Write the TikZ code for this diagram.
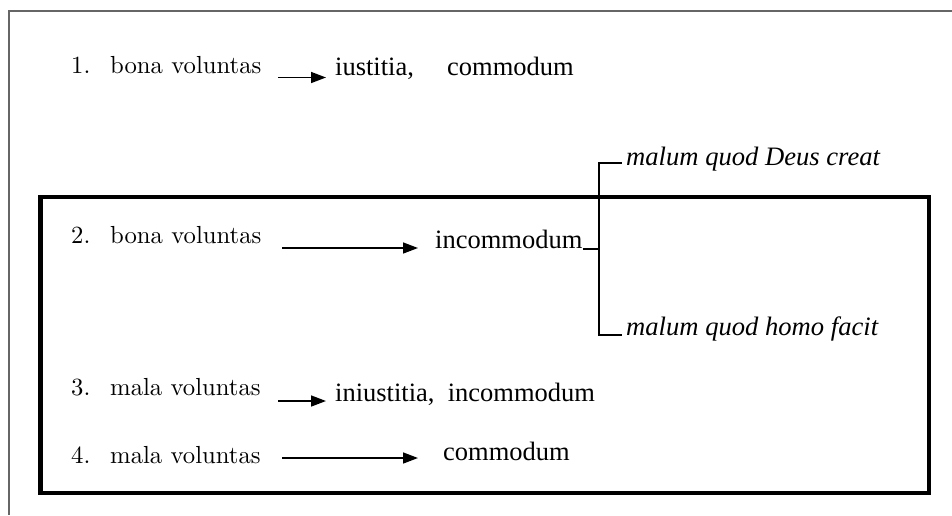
\documentclass[tikz,border=0pt]{standalone}
\usepackage{fontspec}
\newfontfamily\tms{Liberation Serif}
\newfontfamily\lmten{lmroman10-regular}[Extension=.otf]
\usetikzlibrary{arrows.meta}
\begin{document}
\begin{tikzpicture}[x=1pt,y=-1pt,
  lm/.style={anchor=base west,inner sep=0pt,font=\lmten\fontsize{24.7}{30}\selectfont},
  tm/.style={anchor=base west,inner sep=0pt,font=\tms\fontsize{26.5}{32}\selectfont},
  ti/.style={anchor=base west,inner sep=0pt,font=\tms\itshape\fontsize{26.6}{32}\selectfont},
  arr/.style={line width=1.5pt,-{Triangle[length=15pt,width=11pt]}},
  brk/.style={line width=1.2pt}]
\useasboundingbox (0,0) rectangle (952,515);
\fill[white] (0,0) rectangle (952,515);
% outer thin frame (runs off the page right and bottom)
\draw[gray!80!black,line width=1.2pt] (952,11) -- (9,11) -- (9,515);
% thick box
\draw[line width=4.2pt] (40.5,197) rectangle (929,493);
% row 1
\node[lm] (n1) at (71,73.5) {1.};
\node[lm] (l1) at (110,73.5) {bona voluntas};
\coordinate (a1s) at (278,77.5);
\coordinate (a1e) at (326,77.5);
\draw[arr] (a1s) -- (a1e);
\node[tm] (r1a) at (335,75) {iustitia,};
\node[tm] (r1b) at (447,75) {commodum};
% row 2
\node[lm] (n2) at (71,243) {2.};
\node[lm] (l2) at (110,243) {bona voluntas};
\coordinate (a2s) at (282,248);
\coordinate (a2e) at (418,248);
\draw[arr] (a2s) -- (a2e);
\node[tm] (r2) at (435,248) {incommodum};
\node[ti] (d1) at (626,165) {malum quod Deus creat};
\node[ti] (d2) at (626,335) {malum quod homo facit};
\coordinate (bj) at (599,249);
\coordinate (bt) at (599,163);
\coordinate (bb) at (599,335);
\draw[brk] (r2.base east) ++(0,1) -- (bj);
\draw[brk] (d1.base west) ++(-4,-2) -- (bt) -- (bb) -- ([xshift=-4pt]d2.base west);
% row 3
\node[lm] (n3) at (71,395) {3.};
\node[lm] (l3) at (110,395) {mala voluntas};
\coordinate (a3s) at (278,401);
\coordinate (a3e) at (326,401);
\draw[arr] (a3s) -- (a3e);
\node[tm] (r3) at (335,401) {iniustitia,\ \ incommodum};
% row 4
\node[lm] (n4) at (71,463) {4.};
\node[lm] (l4) at (110,463) {mala voluntas};
\coordinate (a4s) at (282,458);
\coordinate (a4e) at (418,458);
\draw[arr] (a4s) -- (a4e);
\node[tm] (r4) at (443,460) {commodum};
\end{tikzpicture}
\end{document}
